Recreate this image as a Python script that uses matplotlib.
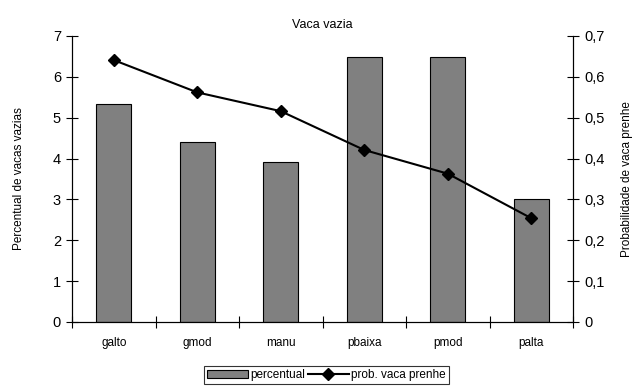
import matplotlib
matplotlib.use("Agg")
import matplotlib.pyplot as plt
import numpy as np

matplotlib.rcParams.update({
    "font.family": ["Liberation Sans", "DejaVu Sans"],
})

categories = ["galto", "gmod", "manu", "pbaixa", "pmod", "palta"]
percentual = [5.33, 4.40, 3.92, 6.48, 6.48, 3.01]
prob_prenhe = [0.641, 0.562, 0.516, 0.421, 0.363, 0.254]

fig = plt.figure(figsize=(6.34, 3.90), dpi=100)
ax = fig.add_axes([0.1136, 0.1744, 0.7902, 0.7333])
ax2 = ax.twinx()

x = np.arange(len(categories))
bars = ax.bar(x, percentual, width=0.42, color="#808080", edgecolor="black",
              linewidth=0.8, label="percentual", zorder=2)
line, = ax2.plot(x, prob_prenhe, color="black", linewidth=1.5, marker="D",
                 markersize=6.5, label="prob. vaca prenhe", zorder=3)

ax.set_xlim(-0.5, len(categories) - 0.5)
ax.set_ylim(0, 7)
ax2.set_ylim(0, 0.7)

ax.set_yticks(range(0, 8))
ax.set_yticklabels([str(v) for v in range(0, 8)], fontsize=10.5)
ax2.set_yticks([i / 10 for i in range(0, 8)])
ax2.set_yticklabels(["0"] + [f"0,{i}" for i in range(1, 8)], fontsize=10.5)

ax.set_xticks(x)
ax.set_xticklabels(categories, fontsize=8.5)
ax.tick_params(axis="x", length=0, pad=11)
ax.set_xticks(np.arange(-0.5, len(categories)), minor=True)
ax.tick_params(axis="x", which="minor", direction="inout", length=8, width=0.8)
ax.tick_params(axis="y", direction="inout", length=8, width=0.8, pad=4)
ax2.tick_params(axis="y", direction="inout", length=8, width=0.8, pad=4)

for a in (ax, ax2):
    a.spines["top"].set_visible(False)
    for s in ("left", "right", "bottom"):
        a.spines[s].set_linewidth(0.8)

ax.set_ylabel("Percentual de vacas vazias", fontsize=8.5, labelpad=20)
ax2.set_ylabel("Probabilidade de vaca prenhe", fontsize=8.5, labelpad=12)
ax.set_title("Vaca vazia", fontsize=9, pad=6)

leg = fig.legend([bars, line], ["percentual", "prob. vaca prenhe"],
                 loc="lower center", bbox_to_anchor=(0.515, 0.0), ncol=2,
                 fontsize=8.5, frameon=True, fancybox=False, edgecolor="black",
                 handlelength=3.5, handletextpad=0.2, columnspacing=0.2,
                 borderpad=0.25)
leg.get_frame().set_linewidth(0.8)

fig.savefig("out.png", dpi=100)
